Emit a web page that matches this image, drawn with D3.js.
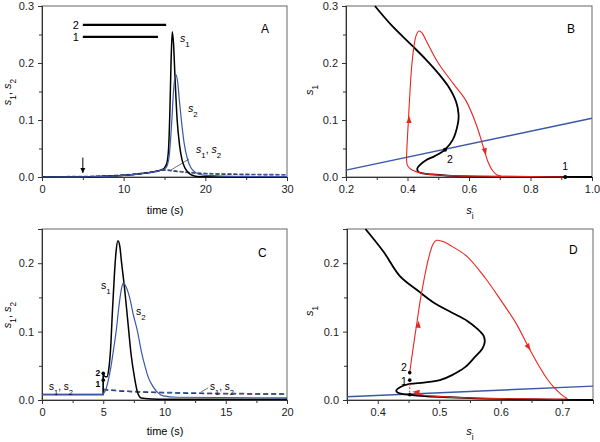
<!DOCTYPE html>
<html><head><meta charset="utf-8">
<script src="https://cdn.jsdelivr.net/npm/d3@7"></script>
<style>body{margin:0;background:#fff}svg{display:block;font-family:"Liberation Sans",Arial,sans-serif}</style>
</head><body><svg id="c" width="600" height="442"></svg>
<script>
// ---------- Panel A data ----------
const tA_s1 = [0,5,7,9,10,11,12,13,14,14.5,15,15.3,15.5,15.65,15.8,15.95,16.1,16.3,16.55,16.85,17.15,17.5,17.9,18.4,19,20,25,30];
const s1A   = [0,0.0003,0.001,0.002,0.003,0.004,0.0055,0.0075,0.010,0.012,0.016,0.025,0.05,0.11,0.2,0.255,0.235,0.17,0.1,0.055,0.03,0.016,0.008,0.003,0.001,0.0003,0,0];
const tA_s2 = [0,5,7,9,10,11,12,13,14,14.5,15,15.3,15.6,15.9,16.1,16.35,16.6,16.85,17.1,17.4,17.8,18.2,18.7,19.2,20,25,30];
const s2A   = [0,0.0003,0.001,0.002,0.003,0.004,0.0055,0.0075,0.010,0.012,0.014,0.019,0.04,0.1,0.15,0.18,0.168,0.13,0.095,0.06,0.032,0.017,0.009,0.005,0.003,0.001,0.0005];
const tA_d  = [0,5,8,10,12,14,15,16,18,20,25,30];
const sA_d  = [0,0.0003,0.0015,0.003,0.0055,0.0095,0.012,0.0105,0.0075,0.0058,0.0042,0.0035];
const barsA = [{label:"2", t0:5, t1:15.2, y:0.267},{label:"1", t0:5, t1:14.2, y:0.246}];
const arrowA = {t:5, y0:0.034, y1:0.007};

// ---------- Panel C data ----------
const tC_s1 = [0,4.99,5.0,5.15,5.3,5.45,5.6,5.75,5.9,6.05,6.2,6.35,6.5,6.73,7.0,7.27,7.55,7.8,8.1,9,10,15,20];
const s1C   = [0.008,0.008,0.040,0.034,0.034,0.045,0.075,0.13,0.18,0.218,0.233,0.225,0.2,0.165,0.116,0.067,0.033,0.011,0.003,0.0015,0.001,0.001,0.001];
const tC_s2 = [0,4.99,5.0,5.2,5.4,5.64,5.85,6.05,6.3,6.5,6.65,6.85,7.15,7.45,7.8,8.1,8.4,8.7,9.05,9.5,9.9,11,20];
const s2C   = [0.008,0.008,0.009,0.015,0.028,0.05,0.075,0.1,0.14,0.164,0.171,0.166,0.15,0.125,0.1,0.072,0.05,0.032,0.02,0.01,0.006,0.004,0.003];
const tC_d  = [5,6,8,10,15,20];
const sC_d  = [0.015,0.0135,0.0115,0.0105,0.009,0.0085];
const pointsC = [{label:"2", t:5, y:0.039},{label:"1", t:5, y:0.029}];

// ---------- Panel B data ----------
const nullBx = [0.294,0.35,0.416,0.46,0.503,0.535,0.558,0.566,0.564,0.547,0.522,0.49,0.46,0.44,0.432,0.435,0.45,0.48,0.53,0.59,0.7,0.85,1.0];
const nullBy = [0.3,0.265,0.23,0.206,0.18,0.157,0.132,0.11,0.094,0.065,0.048,0.037,0.0295,0.021,0.015,0.009,0.0065,0.0045,0.0025,0.0012,0.0005,0.0002,0];
const lineBx = [0.2,1.0];
const lineBy = [0.012,0.103];
const trajBx = [0.913,0.8,0.7,0.6,0.5,0.46,0.43,0.41,0.4,0.397,0.398,0.402,0.407,0.413,0.42,0.428,0.437,0.447,0.46,0.5,0.55,0.59,0.625,0.648,0.663,0.677,0.69,0.705,0.65,0.55,0.48,0.45];
const trajBy = [0.0,0.0006,0.001,0.0018,0.0035,0.0055,0.009,0.014,0.02,0.03,0.05,0.09,0.14,0.19,0.225,0.248,0.256,0.253,0.24,0.2,0.163,0.134,0.09,0.05,0.025,0.011,0.004,0.001,0.0012,0.002,0.004,0.006];
const arrowsB = [[0.405,0.10,0.406,0.13],[0.652,0.045,0.659,0.03]];
const pointsB = [{label:"1", x:0.913, y:0.0},{label:"2", x:0.522, y:0.048}];

// ---------- Panel D data ----------
const nullDx = [0.38,0.41,0.4356,0.465,0.49,0.52,0.545,0.562,0.572,0.574,0.57,0.558,0.542,0.52,0.501,0.475,0.452,0.437,0.43,0.433,0.441,0.452,0.48,0.517,0.56,0.6,0.68,0.75];
const nullDy = [0.25,0.216,0.1816,0.16,0.143,0.128,0.116,0.104,0.094,0.085,0.075,0.063,0.048,0.036,0.029,0.0255,0.0235,0.019,0.0136,0.0105,0.0087,0.0077,0.0055,0.004,0.0025,0.0015,0.0005,0];
const lineDx = [0.35,0.75];
const lineDy = [0.0048,0.0203];
const trajDx = [0.452,0.455,0.459,0.464,0.469,0.475,0.482,0.49,0.4956,0.505,0.52,0.545,0.575,0.6,0.625,0.645,0.662,0.676,0.687,0.696,0.703,0.708,0.7,0.654,0.6,0.55,0.5,0.475,0.46];
const trajDy = [0.040,0.06,0.085,0.115,0.145,0.175,0.205,0.228,0.2334,0.232,0.225,0.21,0.178,0.146,0.112,0.0775,0.05,0.03,0.018,0.01,0.005,0.002,0.0014,0.0016,0.002,0.003,0.005,0.007,0.0095];
const subD_x = [0.452,0.452];
const subD_y = [0.029,0.009];
const arrowsD = [[0.466,0.11,0.469,0.14],[0.645,0.0775,0.655,0.064],[0.463,0.0115,0.455,0.0122]];
const pointsD = [{label:"2", x:0.452, y:0.040},{label:"1", x:0.452, y:0.029},{label:"", x:0.452, y:0.0077}];

// ---------- drawing ----------
const svg = d3.select("#c");
const BLUE = "#3a58a8", RED = "#e8241f";

function sLabel(sel, parts){
  parts.forEach(p=>{
    const ts = sel.append("tspan").text(p[0]);
    if(p[1]) ts.attr("font-style","italic");
    if(p[2]) ts.attr("baseline-shift","sub").attr("font-size","0.75em");
  });
}

function panel(o){
  const g = svg.append("g");
  const x = d3.scaleLinear().domain(o.xd).range([o.l,o.r]);
  const y = d3.scaleLinear().domain(o.yd).range([o.b,o.t]);
  g.append("rect").attr("x",o.l).attr("y",o.t).attr("width",o.r-o.l).attr("height",o.b-o.t)
    .attr("fill","none").attr("stroke","#666").attr("stroke-width",1);
  const ax = d3.axisBottom(x).tickValues(o.xt).tickFormat(o.xf).tickSize(4).tickPadding(4);
  const axm = d3.axisBottom(x).tickValues(o.xm).tickFormat("").tickSize(3);
  const ay = d3.axisLeft(y).tickValues(o.yt).tickFormat(d3.format(".1f")).tickSize(4).tickPadding(4);
  const aym = d3.axisLeft(y).tickValues(o.ym).tickFormat("").tickSize(3);
  [[ax,"b"],[axm,"b"],[ay,"l"],[aym,"l"]].forEach(([a,k])=>{
    const gg = g.append("g").attr("transform", k==="b" ? `translate(0,${o.b})` : `translate(${o.l},0)`).call(a);
    gg.select(".domain").attr("stroke","#333");
    gg.selectAll(".tick line").attr("stroke","#333");
    gg.selectAll("text").attr("font-size","11px").attr("fill","#222").attr("font-family","Liberation Sans, Arial, sans-serif");
  });
  return {g,x,y};
}

// Panel A
(function(){
  const {g,x,y} = panel({l:42,r:287,t:6,b:177,xd:[0,30],yd:[0,0.3],xt:[0,10,20,30],xm:[5,15,25],yt:[0,0.1,0.2,0.3],ym:[0.05,0.15,0.25],xf:d3.format("d")});
  const lnM = d3.line().curve(d3.curveMonotoneX);
  const pts = (a,b)=>a.map((v,i)=>[x(v),y(b[i])]);
  g.append("path").attr("d",lnM(pts(tA_d,sA_d))).attr("fill","none").attr("stroke","#222").attr("stroke-width",1.2).attr("stroke-dasharray","4,2");
  g.append("path").attr("d",lnM(pts(tA_d,sA_d.map(v=>v+0.0008)))).attr("fill","none").attr("stroke",BLUE).attr("stroke-width",1.2).attr("stroke-dasharray","4,2");
  g.append("path").attr("d",lnM(pts(tA_s1,s1A))).attr("fill","none").attr("stroke","#000").attr("stroke-width",1.5);
  g.append("path").attr("d",lnM(pts(tA_s2,s2A))).attr("fill","none").attr("stroke",BLUE).attr("stroke-width",1.2);
  barsA.forEach(b=>{
    g.append("line").attr("x1",x(b.t0)).attr("x2",x(b.t1)).attr("y1",y(b.y)).attr("y2",y(b.y)).attr("stroke","#000").attr("stroke-width",2.2);
    g.append("text").attr("x",x(b.t0)-4).attr("y",y(b.y)+4).attr("text-anchor","end").attr("font-size","11px").text(b.label);
  });
  g.append("line").attr("x1",x(arrowA.t)).attr("x2",x(arrowA.t)).attr("y1",y(arrowA.y0)).attr("y2",y(arrowA.y1)).attr("stroke","#000").attr("stroke-width",1);
  g.append("path").attr("d",`M${x(arrowA.t)-2.5},${y(arrowA.y1)-5}L${x(arrowA.t)+2.5},${y(arrowA.y1)-5}L${x(arrowA.t)},${y(arrowA.y1)}Z`).attr("fill","#000");
  sLabel(g.append("text").attr("x",180).attr("y",42).attr("font-size","10.5px"),[["s",1],["1",0,1]]);
  sLabel(g.append("text").attr("x",188).attr("y",112).attr("font-size","10.5px"),[["s",1],["2",0,1]]);
  sLabel(g.append("text").attr("x",196).attr("y",153).attr("font-size","10.5px"),[["s",1],["1",0,1],[", ",0],["s",1],["2",0,1]]);
  g.append("line").attr("x1",171).attr("y1",170).attr("x2",189).attr("y2",159).attr("stroke","#333").attr("stroke-width",0.7);
  g.append("text").attr("x",261).attr("y",33).attr("font-size","12px").text("A");
  g.append("text").attr("x",165).attr("y",214).attr("text-anchor","middle").attr("font-size","11px").text("time (s)");
  sLabel(g.append("text").attr("transform","translate(11,92) rotate(-90)").attr("text-anchor","middle").attr("font-size","11px"),[["s",1],["1",0,1],[", ",0],["s",1],["2",0,1]]);
})();

// Panel C
(function(){
  const {g,x,y} = panel({l:42,r:287,t:229,b:400,xd:[0,20],yd:[0,0.25],xt:[0,5,10,15,20],xm:[2.5,7.5,12.5,17.5],yt:[0,0.1,0.2],ym:[0.05,0.15,0.25],xf:d3.format("d")});
  const ln = d3.line().curve(d3.curveMonotoneX);
  const ln2 = d3.line();
  const pts = (a,b)=>a.map((v,i)=>[x(v),y(b[i])]);
  g.append("path").attr("d",ln(pts(tC_d,sC_d))).attr("fill","none").attr("stroke","#222").attr("stroke-width",1.2).attr("stroke-dasharray","5,3");
  g.append("path").attr("d",ln(pts(tC_d,sC_d.map(v=>v+0.0008)))).attr("fill","none").attr("stroke",BLUE).attr("stroke-width",1.2).attr("stroke-dasharray","5,3");
  const i0 = 2;
  g.append("path").attr("d",ln2(pts(tC_s1.slice(0,i0+1),s1C.slice(0,i0+1)))+ln(pts(tC_s1.slice(i0),s1C.slice(i0))).replace(/^M/,"L")).attr("fill","none").attr("stroke","#000").attr("stroke-width",1.5);
  g.append("path").attr("d",ln2(pts(tC_s2.slice(0,3),s2C.slice(0,3)))+ln(pts(tC_s2.slice(2),s2C.slice(2))).replace(/^M/,"L")).attr("fill","none").attr("stroke",BLUE).attr("stroke-width",1.2);
  g.append("line").attr("x1",x(5)).attr("x2",x(5)).attr("y1",y(0.039)).attr("y2",y(0.013)).attr("stroke","#000").attr("stroke-width",1);
  pointsC.forEach((p,i)=>{
    g.append("circle").attr("cx",x(p.t)).attr("cy",y(p.y)).attr("r",1.8).attr("fill","#000");
    g.append("text").attr("x",x(p.t)-3).attr("y",y(p.y)+(i===0?3:7)).attr("text-anchor","end").attr("font-size","8.5px").attr("font-weight","bold").text(p.label);
  });
  sLabel(g.append("text").attr("x",101).attr("y",289).attr("font-size","10.5px"),[["s",0],["1",0,1]]);
  sLabel(g.append("text").attr("x",136).attr("y",315).attr("font-size","10.5px"),[["s",0],["2",0,1]]);
  sLabel(g.append("text").attr("x",49).attr("y",390).attr("font-size","10px"),[["s",0],["1",0,1],[", ",0],["s",0],["2",0,1]]);
  sLabel(g.append("text").attr("x",210).attr("y",390).attr("font-size","10px"),[["s",0],["1",0,1],[", ",0],["s",0],["2",0,1]]);
  g.append("line").attr("x1",201).attr("y1",392).attr("x2",208).attr("y2",388).attr("stroke","#333").attr("stroke-width",0.7);
  g.append("text").attr("x",258).attr("y",257).attr("font-size","12px").text("C");
  g.append("text").attr("x",165).attr("y",435).attr("text-anchor","middle").attr("font-size","11px").text("time (s)");
  sLabel(g.append("text").attr("transform","translate(11,315) rotate(-90)").attr("text-anchor","middle").attr("font-size","11px"),[["s",1],["1",0,1],[", ",0],["s",1],["2",0,1]]);
})();

function arrowHead(g,x,y,a,color){
  const x1=x(a[0]),y1=y(a[1]),x2=x(a[2]),y2=y(a[3]);
  const ang = Math.atan2(y2-y1,x2-x1)*180/Math.PI;
  g.append("path").attr("d","M4,0L-3,-2.6L-3,2.6Z").attr("fill",color)
    .attr("transform",`translate(${x1},${y1}) rotate(${ang})`);
}

// Panel B
(function(){
  const {g,x,y} = panel({l:346,r:592,t:6,b:177,xd:[0.2,1.0],yd:[0,0.3],xt:[0.2,0.4,0.6,0.8,1.0],xm:[0.3,0.5,0.7,0.9],yt:[0,0.1,0.2,0.3],ym:[0.05,0.15,0.25],xf:d3.format(".1f")});
  const cr = d3.line().curve(d3.curveCatmullRom.alpha(0.5));
  const pts = (a,b)=>a.map((v,i)=>[x(v),y(b[i])]);
  g.append("path").attr("d",d3.line()(pts(lineBx,lineBy))).attr("fill","none").attr("stroke",BLUE).attr("stroke-width",1.4);
  g.append("path").attr("d",cr(pts(nullBx,nullBy))).attr("fill","none").attr("stroke","#000").attr("stroke-width",1.8);
  g.append("path").attr("d",cr(pts(trajBx,trajBy))).attr("fill","none").attr("stroke",RED).attr("stroke-width",1.1);
  arrowsB.forEach(a=>arrowHead(g,x,y,a,RED));
  pointsB.forEach(p=>g.append("circle").attr("cx",x(p.x)).attr("cy",y(p.y)).attr("r",2).attr("fill","#000"));
  g.append("text").attr("x",x(0.913)-3).attr("y",170).attr("font-size","10.5px").text("1");
  g.append("text").attr("x",447).attr("y",163).attr("font-size","10.5px").text("2");
  g.append("text").attr("x",567).attr("y",33).attr("font-size","12px").text("B");
  sLabel(g.append("text").attr("x",470).attr("y",214).attr("text-anchor","middle").attr("font-size","11px"),[["s",1],["i",0,1]]);
  sLabel(g.append("text").attr("transform","translate(313,90) rotate(-90)").attr("text-anchor","middle").attr("font-size","11px"),[["s",1],["1",0,1]]);
})();

// Panel D
(function(){
  const {g,x,y} = panel({l:347,r:593,t:229,b:400,xd:[0.35,0.75],yd:[0,0.25],xt:[0.4,0.5,0.6,0.7],xm:[0.35,0.45,0.55,0.65,0.75],yt:[0,0.1,0.2],ym:[0.05,0.15,0.25],xf:d3.format(".1f")});
  const cr = d3.line().curve(d3.curveCatmullRom.alpha(0.5));
  const pts = (a,b)=>a.map((v,i)=>[x(v),y(b[i])]);
  g.append("path").attr("d",d3.line()(pts(lineDx,lineDy))).attr("fill","none").attr("stroke",BLUE).attr("stroke-width",1.4);
  g.append("path").attr("d",cr(pts(nullDx,nullDy))).attr("fill","none").attr("stroke","#000").attr("stroke-width",1.8);
  g.append("path").attr("d",cr(pts(trajDx,trajDy))).attr("fill","none").attr("stroke",RED).attr("stroke-width",1.1);
  g.append("path").attr("d",d3.line()(pts(subD_x,subD_y))).attr("fill","none").attr("stroke",RED).attr("stroke-width",1).attr("stroke-dasharray","2,1.5");
  arrowsD.forEach(a=>arrowHead(g,x,y,a,RED));
  pointsD.forEach((p,i)=>{
    g.append("circle").attr("cx",x(p.x)).attr("cy",y(p.y)).attr("r",1.8).attr("fill","#000");
    if(p.label) g.append("text").attr("x",x(p.x)-3).attr("y",y(p.y)+(i===0?-2:5)).attr("text-anchor","end").attr("font-size","10.5px").text(p.label);
  });
  g.append("text").attr("x",569).attr("y",254).attr("font-size","12px").text("D");
  sLabel(g.append("text").attr("x",470).attr("y",435).attr("text-anchor","middle").attr("font-size","11px"),[["s",1],["i",0,1]]);
  sLabel(g.append("text").attr("transform","translate(313,311) rotate(-90)").attr("text-anchor","middle").attr("font-size","11px"),[["s",1],["1",0,1]]);
})();
</script></body></html>
